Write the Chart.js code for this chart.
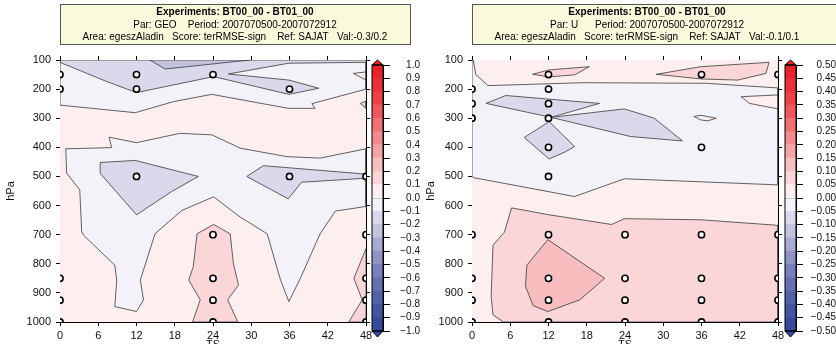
<!DOCTYPE html>
<html>
<head>
<meta charset="utf-8">
<script src="https://cdn.jsdelivr.net/npm/chart.js@4.4.1/dist/chart.umd.min.js"></script>
<style>
  body { margin: 0; width: 836px; height: 344px; overflow: hidden; position: relative; background: #fff; }
  canvas { position: absolute; top: 0; }
</style>
</head>
<body>
<canvas id="geoChart" width="420" height="352" style="left:0"></canvas>
<canvas id="geoBar" width="54" height="344" style="left:366px"></canvas>
<canvas id="uChart" width="424" height="352" style="left:412px"></canvas>
<canvas id="uBar" width="57" height="344" style="left:779px"></canvas>
<script>
// axes
const tsTicks = [0, 6, 12, 18, 24, 30, 36, 42, 48];
const hpaTicks = [100, 200, 300, 400, 500, 600, 700, 800, 900, 1000];

// colour bar levels (20 bins each)
const geoLevels = [-1.0, -0.9, -0.8, -0.7, -0.6, -0.5, -0.4, -0.3, -0.2, -0.1, 0.0,
                   0.1, 0.2, 0.3, 0.4, 0.5, 0.6, 0.7, 0.8, 0.9, 1.0];
const uLevels = [-0.5, -0.45, -0.4, -0.35, -0.3, -0.25, -0.2, -0.15, -0.1, -0.05, 0.0,
                 0.05, 0.1, 0.15, 0.2, 0.25, 0.3, 0.35, 0.4, 0.45, 0.5];
const binColors = ['#354a9b', '#4256a1', '#5262a8', '#6670b0', '#7b7fba', '#9093c5', '#a8aad2',
                   '#c2c3df', '#d9d9eb', '#f2f2f8', '#fdeff0', '#fad6d8', '#f7bdbf', '#f5a4a6',
                   '#f38a8d', '#f07074', '#ee585c', '#ec4246', '#ea3136', '#e8232a'];

// titles
const geoTitle = ['Experiments: BT00_00 - BT01_00',
                  'Par: GEO    Period: 2007070500-2007072912',
                  'Area: egeszAladin   Score: terRMSE-sign    Ref: SAJAT   Val:-0.3/0.2'];
const uTitle = ['Experiments: BT00_00 - BT01_00',
                'Par: U      Period: 2007070500-2007072912',
                'Area: egeszAladin   Score: terRMSE-sign    Ref: SAJAT   Val:-0.1/0.1'];

// GEO contour regions, [TS, hPa]
const geoBase = [[0, 100], [48, 100], [48, 1000], [0, 1000]];
const geoUpperLight = [[0, 100], [48, 100], [48, 200], [39.5, 250], [40, 266], [35.8, 266],
                       [23.8, 218], [17.8, 243], [11.8, 281], [0, 255]];
const geoCornerPink = [[46, 146], [48, 141], [48, 169]];
const geoUpperDark = [[0, 100], [0, 108], [7.1, 172], [12, 212], [24.1, 157], [35.9, 218],
                      [40.6, 197], [35.9, 169], [26.4, 148], [35.9, 111], [48, 108], [48, 100]];
const geoTopDarker = [[14.1, 100], [16.5, 131], [29.8, 100]];
const geoEdgePink = [[47.1, 249], [48, 241], [48, 266]];
const geoMidLight = [[0.9, 405], [8.1, 401], [7.7, 365], [12, 384], [18.8, 352], [23.8, 357],
                     [28.3, 403], [35.6, 432], [40.8, 437], [48, 405], [48, 603], [43.2, 619],
                     [40.8, 697], [37.7, 850], [35.9, 930], [34.6, 856], [32.5, 697], [28.3, 640],
                     [24.1, 570], [19.1, 617], [14.9, 697], [12.6, 856], [13.1, 924], [12, 964],
                     [8.6, 947], [8.9, 856], [8.6, 805], [3.7, 702], [3.4, 690], [3.1, 546], [1.05, 489]];
const geoMidDarkL = [[6.3, 452], [11.8, 445], [21.7, 500], [17.5, 552], [12, 632], [6.3, 489]];
const geoMidDarkR = [[29.3, 500], [31.9, 463], [48, 492], [48, 506], [37.9, 520], [35.8, 577]];
const geoLowPinkC = [[24.1, 665], [26.7, 697], [27.2, 799], [28, 873], [26.3, 924], [27.9, 1000],
                     [20.8, 1000], [22, 924], [20.2, 856], [20.9, 810], [21.5, 697]];
const geoLowPinkR = [[48, 748], [46.1, 850], [47.4, 924], [45.3, 1000], [48, 1000]];
const geoSig = [[0, 150], [0, 200], [12, 150], [12, 200], [24, 150], [36, 200], [12, 500], [36, 500],
                [48, 500], [24, 700], [24, 850], [24, 925], [24, 1000], [0, 850], [0, 925], [0, 1000],
                [48, 700], [48, 850], [48, 925], [48, 1000]];

// U contour regions, [TS, hPa]
const uBase = [[0, 100], [48, 100], [48, 1000], [0, 1000]];
const uMidLight = [[0, 100], [0.2, 100], [0.6, 150], [2.5, 188], [17.4, 178], [36.8, 180], [48, 196],
                   [48, 529], [23.9, 508], [16.1, 569], [0.2, 504], [0, 500]];
const uRightPink = [[42.2, 226], [48, 220], [48, 268], [43.5, 249]];
const uLensPink = [[34.8, 294], [35.9, 290], [38.3, 300], [37, 309], [35.9, 306]];
const uDarkA = [[2.2, 249], [5.3, 222], [20, 249], [12.4, 297]];
const uDarkB = [[12.4, 297], [23.9, 268], [28.6, 300], [33, 378], [24.9, 363]];
const uDarkC = [[12.1, 312], [16.1, 397], [14.5, 417], [12.1, 440], [8.2, 366]];
const uTopPinkA = [[9.5, 149], [12.1, 134], [18.4, 123], [16.1, 151], [12.1, 158]];
const uTopPinkB = [[28.9, 149], [35.9, 123], [46.6, 108], [46.1, 146], [41.7, 169], [35.9, 165]];
const uLowPink = [[6.2, 608], [11.9, 631], [21.9, 665], [23.9, 645], [36, 649], [48, 668], [48, 1000],
                  [4.9, 1000], [3.3, 975], [3, 912], [3.3, 736], [5.1, 691]];
const uLowCore = [[11.9, 717], [20.8, 850], [16.9, 924], [11.9, 964], [9.6, 944], [8.4, 878], [8.6, 805]];
const uSig = [[12, 150], [36, 150], [48, 150], [0, 200], [0, 250], [0, 300], [12, 200], [12, 250],
              [12, 300], [12, 400], [36, 400], [12, 500], [0, 700], [12, 700], [24, 700], [36, 700],
              [48, 700], [0, 850], [12, 850], [24, 850], [36, 850], [48, 850], [0, 925], [12, 925],
              [24, 925], [36, 925], [48, 925], [0, 1000], [12, 1000], [24, 1000], [36, 1000], [48, 1000]];

// region -> colour bin, bottom to top
const geoShapes = [[geoBase, 10], [geoUpperLight, 9], [geoCornerPink, 10], [geoUpperDark, 8],
                   [geoTopDarker, 7], [geoEdgePink, 11], [geoMidLight, 9], [geoMidDarkL, 8],
                   [geoMidDarkR, 8], [geoLowPinkC, 11], [geoLowPinkR, 11]];
const uShapes = [[uBase, 10], [uMidLight, 9], [uRightPink, 10], [uLensPink, 10], [uDarkA, 8],
                 [uDarkB, 8], [uDarkC, 8], [uTopPinkA, 11], [uTopPinkB, 11], [uLowPink, 11], [uLowCore, 12]];

Chart.defaults.font.family = "'Liberation Sans', Arial, sans-serif";
Chart.defaults.color = '#111';

const fmt = (v, d) => (Math.abs(v) < 1e-9 ? 0 : v).toFixed(d).replace('-', '\u2212');

const titleBox = {
    id: 'titleBox',
    afterDraw(chart, args, opts) {
        const { ctx, chartArea } = chart;
        const cx = chartArea.left + 175;
        ctx.save();
        ctx.fillStyle = '#fbf9dc';
        ctx.strokeStyle = '#555';
        ctx.lineWidth = 1;
        ctx.fillRect(chartArea.left + 0.5, 4.5, opts.width, 40);
        ctx.strokeRect(chartArea.left + 0.5, 4.5, opts.width, 40);
        ctx.fillStyle = '#000';
        ctx.textAlign = 'center';
        ctx.textBaseline = 'middle';
        ctx.font = "bold 10px 'Liberation Sans', Arial";
        ctx.fillText(opts.lines[0], cx, 12.5);
        ctx.font = "10px 'Liberation Sans', Arial";
        ctx.fillText(opts.lines[1], cx, 25);
        ctx.fillText(opts.lines[2], cx, 37.5);
        ctx.restore();
    }
};

const barEnds = {
    id: 'barEnds',
    afterDraw(chart) {
        const { ctx, chartArea: a } = chart;
        const mid = (a.left + a.right) / 2;
        ctx.save();
        ctx.strokeStyle = '#000';
        ctx.lineWidth = 1;
        ctx.fillStyle = binColors[19];
        ctx.beginPath();
        ctx.moveTo(a.left, a.top); ctx.lineTo(mid, a.top - 5); ctx.lineTo(a.right, a.top); ctx.closePath();
        ctx.fill(); ctx.stroke();
        ctx.fillStyle = binColors[0];
        ctx.beginPath();
        ctx.moveTo(a.left, a.bottom); ctx.lineTo(mid, a.bottom + 6); ctx.lineTo(a.right, a.bottom); ctx.closePath();
        ctx.fill(); ctx.stroke();
        ctx.strokeRect(a.left, a.top, a.right - a.left, a.bottom - a.top);
        ctx.restore();
    }
};

function edgeAxis(position, min, max, ticks, size, extra) {
    return Object.assign({
        type: 'linear', position: position, min: min, max: max,
        afterBuildTicks: s => { s.ticks = ticks.map(v => ({ value: v })); },
        ticks: { display: false },
        grid: { drawOnChartArea: false, tickLength: 4, color: '#000' },
        border: { color: '#000' },
        afterFit: s => {
            if (s.isHorizontal()) s.height = size; else s.width = size;
        },
    }, extra || {});
}

function makePanel(id, shapes, sig, lines, boxWidth, padRight, titlePad) {
    const datasets = shapes.map(([pts, bin], i) => ({
        data: pts.concat([pts[0]]).map(([x, y]) => ({ x: x, y: y })),
        showLine: true,
        fill: 'shape',
        backgroundColor: binColors[bin],
        borderColor: '#3a3a3a',
        borderWidth: i === 0 ? 0 : 0.8,
        pointRadius: 0,
        tension: 0,
        order: shapes.length - i + 1,
    }));
    datasets.push({
        data: sig.map(([x, y]) => ({ x: x, y: y })),
        pointRadius: 3.1,
        pointBorderWidth: 1.6,
        pointBackgroundColor: '#fff',
        pointBorderColor: '#000',
        showLine: false,
        order: 0,
    });

    const tickFont = { size: 11 };
    new Chart(document.getElementById(id), {
        type: 'scatter',
        data: { datasets: datasets },
        plugins: [titleBox],
        options: {
            responsive: false,
            animation: false,
            events: [],
            devicePixelRatio: 1,
            layout: { padding: { left: 0, right: padRight, top: 0, bottom: 0 } },
            plugins: {
                legend: { display: false },
                tooltip: { enabled: false },
                titleBox: { lines: lines, width: boxWidth },
            },
            scales: {
                x: edgeAxis('bottom', 0, 48, tsTicks, 30, {
                    ticks: { display: true, font: tickFont, padding: 3, autoSkip: false, maxRotation: 0,
                             callback: v => String(v) },
                    title: { display: true, text: 'TS', font: tickFont, padding: { top: 0, bottom: 0 } },
                }),
                x2: edgeAxis('top', 0, 48, tsTicks, 60),
                y: edgeAxis('left', 100, 1000, hpaTicks, 60, {
                    reverse: true,
                    ticks: { display: true, font: tickFont, padding: 5, autoSkip: false,
                             callback: v => String(v) },
                    title: { display: true, text: 'hPa', font: tickFont, padding: { top: titlePad, bottom: 0 } },
                }),
                y2: edgeAxis('right', 100, 1000, hpaTicks, 4, { reverse: true }),
            },
        },
    });
}

function makeBar(id, levels, decimals, tickLen, tickPad, axisWidth) {
    const datasets = [];
    for (let i = 0; i < levels.length - 1; i++) {
        datasets.push({
            data: [[levels[i], levels[i + 1]]],
            backgroundColor: binColors[i],
            borderWidth: 0,
            grouped: false,
            barPercentage: 1,
            categoryPercentage: 1,
        });
    }
    new Chart(document.getElementById(id), {
        type: 'bar',
        data: { labels: [''], datasets: datasets },
        plugins: [barEnds],
        options: {
            responsive: false,
            animation: false,
            events: [],
            devicePixelRatio: 1,
            layout: { padding: { left: 6, right: 0, top: 65, bottom: 13 } },
            plugins: { legend: { display: false }, tooltip: { enabled: false } },
            scales: {
                x: { display: false },
                y: {
                    position: 'right',
                    min: levels[0],
                    max: levels[levels.length - 1],
                    z: 1,
                    afterBuildTicks: s => { s.ticks = levels.map(v => ({ value: v })); },
                    ticks: { font: { size: 10 }, padding: tickPad, crossAlign: 'far', autoSkip: false,
                             callback: v => fmt(v, decimals) },
                    grid: { color: '#000', tickLength: tickLen, lineWidth: 1 },
                    border: { color: '#000' },
                    afterFit: s => { s.width = axisWidth; },
                },
            },
        },
    });
}

makePanel('geoChart', geoShapes, geoSig, geoTitle, 350, 50, 4);
makePanel('uChart', uShapes, uSig, uTitle, 372, 54, 12);
makeBar('geoBar', geoLevels, 1, 7, 2, 37);
makeBar('uBar', uLevels, 2, 7, 3, 40);
</script>
</body>
</html>
